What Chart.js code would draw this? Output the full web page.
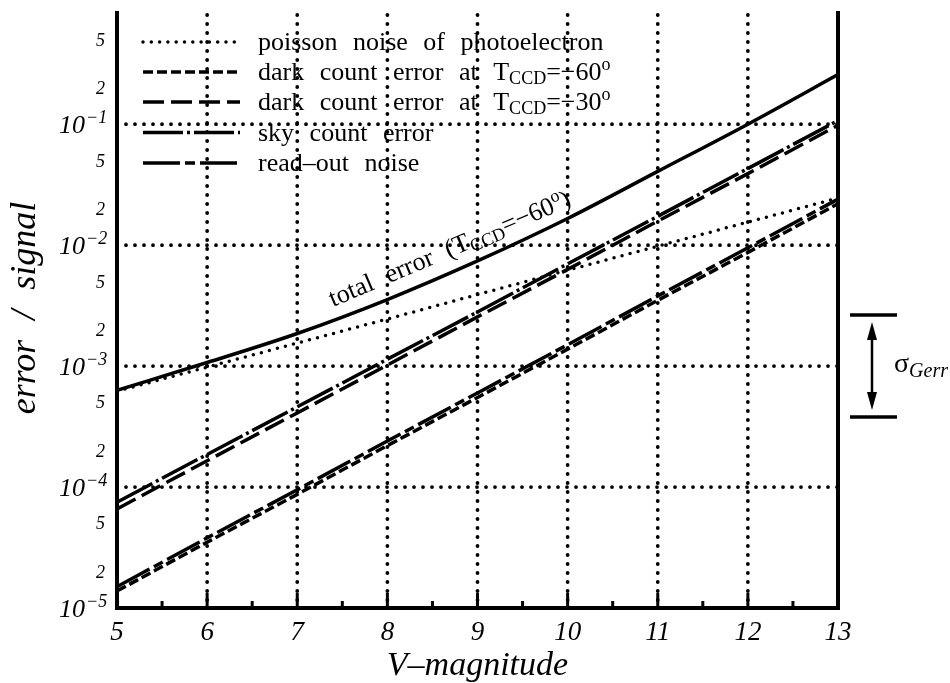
<!DOCTYPE html>
<html>
<head>
<meta charset="utf-8">
<title>error / signal vs V-magnitude</title>
<script src="https://cdn.jsdelivr.net/npm/chart.js@4/dist/chart.umd.min.js"></script>
<style>
  html, body { margin: 0; padding: 0; background: #fff; }
  #wrap { width: 950px; height: 683px; }
</style>
</head>
<body>
<div id="wrap"><canvas id="chart" width="950" height="683"></canvas></div>
<script>
// values
const magnitudes   = [5, 6, 7, 8, 9, 10, 11, 12, 13];
const poissonNoise = [6.2e-4, 9.8e-4, 1.55e-3, 2.45e-3, 3.9e-3, 6.2e-3, 9.8e-3, 1.55e-2, 2.45e-2];
const darkCount60  = [1.38e-5, 3.5e-5, 8.7e-5, 2.2e-4, 5.5e-4, 1.38e-3, 3.5e-3, 8.7e-3, 2.2e-2];
const darkCount30  = [6.6e-5, 1.65e-4, 4.1e-4, 1.02e-3, 2.55e-3, 6.3e-3, 1.58e-2, 3.9e-2, 9.8e-2];
const skyCount     = [7.5e-5, 1.86e-4, 4.6e-4, 1.14e-3, 2.8e-3, 7.0e-3, 1.73e-2, 4.3e-2, 1.07e-1];
const readOutNoise = [1.5e-5, 3.8e-5, 9.5e-5, 2.4e-4, 6.0e-4, 1.5e-3, 3.8e-3, 9.5e-3, 2.4e-2];
const totalError   = [6.3e-4, 1.07e-3, 1.86e-3, 3.55e-3, 7.4e-3, 1.66e-2, 4.07e-2, 1.0e-1, 2.57e-1];

const xTicks = [5, 6, 7, 8, 9, 10, 11, 12, 13];
const xGrid = [6, 7, 8, 9, 10, 11, 12];
const yMajor = [1e-5, 1e-4, 1e-3, 1e-2, 1e-1];
const yMajorExp = ['5', '4', '3', '2', '1'];
const yGrid = [1e-4, 1e-3, 1e-2, 1e-1];
const yMinor = [2e-5, 5e-5, 2e-4, 5e-4, 2e-3, 5e-3, 2e-2, 5e-2, 2e-1, 5e-1];
const yMinorLabels = ['2', '5', '2', '5', '2', '5', '2', '5', '2', '5'];

const legendLabels = [
  ['poisson noise of photoelectron'],
  ['dark count error at T', 'CCD', '=\u221260', 'o'],
  ['dark count error at T', 'CCD', '=\u221230', 'o'],
  ['sky count error'],
  ['read\u2013out noise']
];

const SERIF = "'Liberation Serif', 'Times New Roman', serif";

function makeSet(label, data, dash, cap) {
  return {
    label: label,
    data: data,
    borderColor: '#000',
    borderWidth: 3.5,
    borderDash: dash,
    borderCapStyle: cap || 'butt',
    pointRadius: 0,
    fill: false,
    tension: 0
  };
}

const datasets = [
  makeSet('poisson', poissonNoise, [0, 8.3], 'round'),
  makeSet('dark60', darkCount60, [10, 4]),
  makeSet('dark30', darkCount30, [21, 7]),
  makeSet('sky', skyCount, [40, 4, 3, 4]),
  makeSet('readout', readOutNoise, [37, 5, 10, 5]),
  makeSet('total', totalError, [])
];
datasets[5].cubicInterpolationMode = 'monotone';

function line(ctx, x1, y1, x2, y2) {
  ctx.beginPath();
  ctx.moveTo(x1, y1);
  ctx.lineTo(x2, y2);
  ctx.stroke();
}

// draws text pieces one after another: [text, font, dy]
function richText(ctx, x, y, parts) {
  let cx = x;
  parts.forEach(([t, font, dy]) => {
    ctx.font = font;
    ctx.fillText(t, cx, y + (dy || 0));
    cx += ctx.measureText(t).width;
  });
  return cx;
}

const framePlugin = {
  id: 'frame',
  beforeDatasetsDraw(chart) {
    const { ctx, chartArea: a, scales: { x, y } } = chart;
    ctx.save();
    ctx.strokeStyle = '#000';
    ctx.lineWidth = 3.8;
    ctx.lineCap = 'round';
    ctx.setLineDash([0, 9]);
    xGrid.forEach(v => {
      const px = x.getPixelForValue(v);
      line(ctx, px, a.top + 2, px, a.bottom);
    });
    yGrid.forEach(v => {
      const py = y.getPixelForValue(v);
      line(ctx, a.left, py, a.right, py);
    });
    ctx.restore();
  },
  afterDatasetsDraw(chart) {
    const { ctx, chartArea: a, scales: { x, y } } = chart;
    ctx.save();
    ctx.strokeStyle = '#000';
    ctx.fillStyle = '#000';
    ctx.setLineDash([]);

    // axes frame (no top line)
    ctx.lineWidth = 4;
    ctx.lineCap = 'square';
    ctx.beginPath();
    ctx.moveTo(a.left, a.top);
    ctx.lineTo(a.left, a.bottom);
    ctx.lineTo(a.right, a.bottom);
    ctx.lineTo(a.right, a.top);
    ctx.stroke();

    // ticks on the bottom axis
    ctx.lineWidth = 3;
    ctx.lineCap = 'butt';
    for (let v = 5.5; v < 13; v += 0.5) {
      const px = x.getPixelForValue(v);
      const len = Number.isInteger(v) ? 15 : 7;
      line(ctx, px, a.bottom, px, a.bottom - len);
    }

    // x tick labels
    ctx.textAlign = 'center';
    ctx.textBaseline = 'alphabetic';
    ctx.font = 'italic 27px ' + SERIF;
    xTicks.forEach(v => {
      ctx.fillText(String(v), x.getPixelForValue(v), 640);
    });

    // y tick labels
    yMajor.forEach((v, i) => {
      const py = y.getPixelForValue(v);
      ctx.textAlign = 'right';
      ctx.font = 'italic 26px ' + SERIF;
      ctx.fillText('10', 85, py + 9);
      ctx.textAlign = 'left';
      ctx.font = 'italic 18px ' + SERIF;
      ctx.fillText('\u2212' + yMajorExp[i], 86, py - 1);
    });
    ctx.textAlign = 'right';
    ctx.font = 'italic 18px ' + SERIF;
    yMinor.forEach((v, i) => {
      ctx.fillText(yMinorLabels[i], 105, y.getPixelForValue(v) + 6);
    });

    // axis titles
    ctx.textAlign = 'center';
    ctx.font = 'italic 34px ' + SERIF;
    ctx.fillText('V\u2013magnitude', (a.left + a.right) / 2, 675);
    ctx.save();
    ctx.translate(35, 308);
    ctx.rotate(-Math.PI / 2);
    ctx.font = 'italic 36px ' + SERIF;
    ctx.wordSpacing = '11px';
    ctx.fillText('error / signal', 0, 0);
    ctx.restore();

    // legend
    const rows = [42, 72, 102, 132.5, 163];
    ctx.textAlign = 'left';
    ctx.wordSpacing = '9px';
    chart.data.datasets.slice(0, 5).forEach((ds, i) => {
      ctx.lineWidth = ds.borderWidth;
      ctx.lineCap = ds.borderCapStyle;
      ctx.setLineDash(ds.borderDash);
      line(ctx, 143, rows[i], 240, rows[i]);
      ctx.setLineDash([]);
      const lab = legendLabels[i];
      const big = '26px ' + SERIF;
      const small = '18px ' + SERIF;
      if (lab.length === 1) {
        richText(ctx, 258, rows[i] + 8, [[lab[0], big]]);
      } else {
        richText(ctx, 258, rows[i] + 8, [[lab[0], big], [lab[1], small, 4], [lab[2], big], [lab[3], small, -10]]);
      }
    });
    ctx.wordSpacing = '0px';

    // rotated label on the total error curve
    ctx.save();
    ctx.translate(333, 307);
    ctx.rotate(-23 * Math.PI / 180);
    ctx.wordSpacing = '8px';
    richText(ctx, 0, 0, [
      ['total error (T', '26px ' + SERIF],
      ['CCD', '18px ' + SERIF, 4],
      ['=\u221260', '26px ' + SERIF],
      ['o', '18px ' + SERIF, -10],
      [')', '26px ' + SERIF]
    ]);
    ctx.restore();

    // sigma_Gerr marker on the right
    ctx.lineWidth = 3.5;
    ctx.lineCap = 'butt';
    line(ctx, 850, 315, 897, 315);
    line(ctx, 850, 417, 897, 417);
    ctx.lineWidth = 2.5;
    line(ctx, 872, 335, 872, 397);
    ctx.beginPath();
    ctx.moveTo(872, 322); ctx.lineTo(867, 340); ctx.lineTo(877, 340); ctx.closePath(); ctx.fill();
    ctx.beginPath();
    ctx.moveTo(872, 410); ctx.lineTo(867, 392); ctx.lineTo(877, 392); ctx.closePath(); ctx.fill();
    ctx.textAlign = 'left';
    richText(ctx, 894, 372, [['\u03c3', '28px ' + SERIF], ['Gerr', 'italic 20px ' + SERIF, 5]]);

    ctx.restore();
  }
};

new Chart(document.getElementById('chart'), {
  type: 'line',
  data: { labels: magnitudes, datasets: datasets },
  options: {
    responsive: false,
    animation: false,
    layout: { padding: { left: 117, right: 112, top: 13, bottom: 75 } },
    plugins: { legend: { display: false }, tooltip: { enabled: false }, title: { display: false } },
    scales: {
      x: { type: 'linear', min: 5, max: 13, display: false },
      y: { type: 'logarithmic', min: 1e-5, max: 0.83, display: false }
    }
  },
  plugins: [framePlugin]
});
</script>
</body>
</html>
